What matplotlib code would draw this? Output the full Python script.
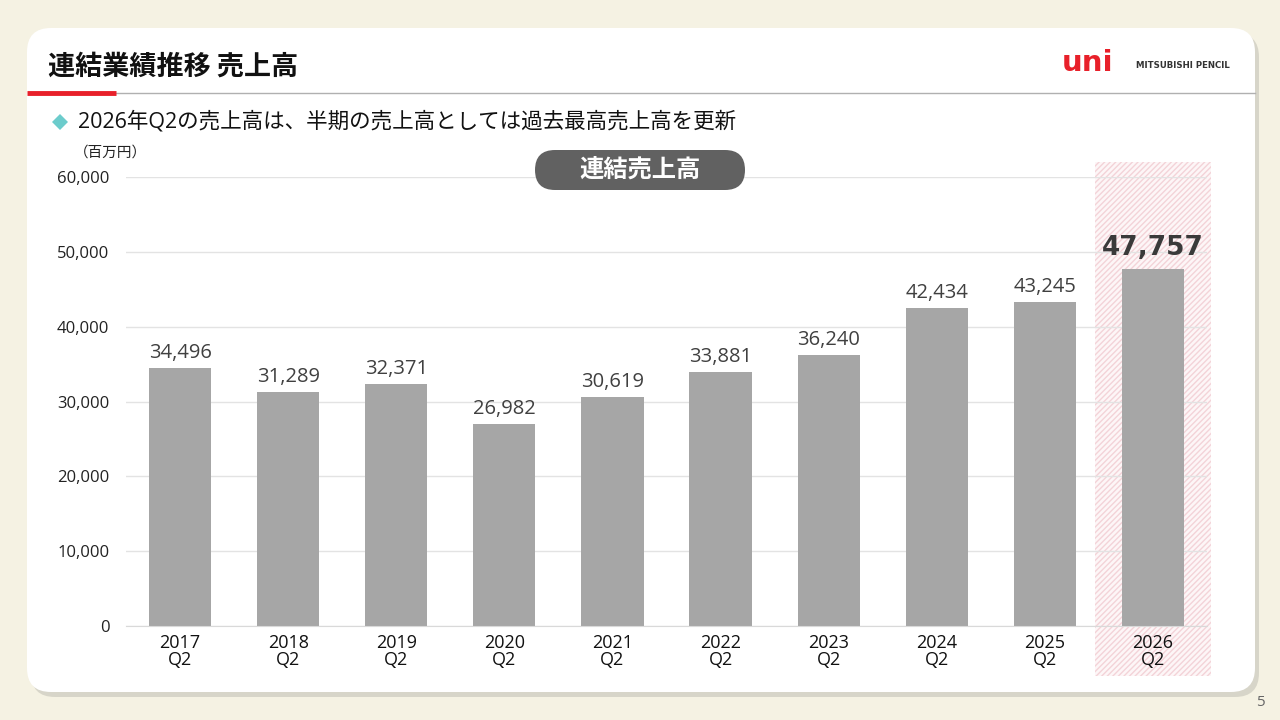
import numpy as np
import matplotlib.pyplot as plt
from matplotlib.patches import FancyBboxPatch, Rectangle, Polygon

plt.rcParams['font.family'] = ['Open Sans', 'Noto Sans CJK JP', 'DejaVu Sans']
plt.rcParams['hatch.linewidth'] = 1.0

# データ（百万円）
years = ['2017', '2018', '2019', '2020', '2021', '2022', '2023', '2024', '2025', '2026']
sales = [34496, 31289, 32371, 26982, 30619, 33881, 36240, 42434, 43245, 47757]
tick_labels = [y + '\nQ2' for y in years]
yticks = [0, 10000, 20000, 30000, 40000, 50000, 60000]

W, H = 1280, 720
fig = plt.figure(figsize=(12.8, 7.2), dpi=100)
fig.patch.set_facecolor('#f5f2e3')

# 背景カード
bg = fig.add_axes([0, 0, 1, 1])
bg.set_xlim(0, W)
bg.set_ylim(H, 0)
bg.axis('off')
bg.set_zorder(-1)
bg.add_patch(FancyBboxPatch((31, 33), 1228, 664, boxstyle='round,pad=0,rounding_size=24',
                            fc='#c4c3b8', ec='none', alpha=0.6))
bg.add_patch(FancyBboxPatch((27, 28), 1228, 664, boxstyle='round,pad=0,rounding_size=24',
                            fc='white', ec='none'))

# タイトル
bg.text(48, 67, '連結業績推移 売上高', fontsize=19.5, fontweight='bold', color='#111111',
        va='center', ha='left', family='Noto Sans CJK JP')
bg.plot([115, 1255], [93, 93], color='#b0b0b0', lw=1)
bg.plot([27, 116], [93, 93], color='#e8202a', lw=3.5, solid_capstyle='butt')

# ロゴ
bg.text(1062, 63, 'uni', fontsize=21, fontweight='heavy', color='#e8202a',
        va='center', ha='left', family='DejaVu Sans')
bg.text(1136, 65, 'MITSUBISHI PENCIL', fontsize=6.2, fontweight='bold', color='#333333',
        va='center', ha='left', family='DejaVu Sans')

# 箇条書き
bg.add_patch(Polygon([[60, 114], [68, 122], [60, 130], [52, 122]], closed=True,
                     fc='#6ccccc', ec='none'))
bg.text(78, 122, '2026年Q2の売上高は、半期の売上高としては過去最高売上高を更新',
        fontsize=15.5, color='#111111', va='center', ha='left')
bg.text(110, 153, '（百万円）', fontsize=10.5, color='#222222', va='center', ha='center',
        family='Noto Sans CJK JP')

# ページ番号
bg.text(1260, 703, '5', fontsize=11, color='#666666', va='center', ha='center')

# グラフ
x = np.arange(len(years))
ax = fig.add_axes([126 / W, 1 - 626 / H, (1207 - 126) / W, (626 - 177) / H])
ax.set_facecolor('none')
ax.set_xlim(-0.5, len(years) - 0.5)
ax.set_ylim(0, 60000)

# 2026年ハイライト
hl = Rectangle((len(years) - 1 - 0.535, -6700), 1.07, 68700, fc='#fdf6f7', ec='#f3d3d8',
               hatch='//////', lw=0, clip_on=False, zorder=0)
ax.add_patch(hl)

ax.set_yticks(yticks)
ax.set_yticklabels([f'{v:,}' for v in yticks], fontsize=12, color='#222222')
ax.yaxis.grid(True, color='#e3e3e3', lw=1)
ax.set_axisbelow(True)
ax.bar(x, sales, width=0.575, color='#a6a6a6', zorder=2)

for i, v in enumerate(sales):
    if i == len(sales) - 1:
        ax.text(i, v + 1000, f'{v:,}', ha='center', va='bottom', fontsize=19,
                fontweight='bold', color='#3a3a3a', family='DejaVu Sans')
    else:
        ax.text(i, v + 700, f'{v:,}', ha='center', va='bottom', fontsize=14.5,
                color='#404040')

ax.set_xticks(x)
ax.set_xticklabels(tick_labels, fontsize=13, color='#111111', linespacing=0.9)
ax.tick_params(length=0, pad=6)
ax.tick_params(axis='y', pad=12)
for s in ['top', 'right', 'left']:
    ax.spines[s].set_visible(False)
ax.spines['bottom'].set_color('#d9d9d9')

# 凡例ピル
top = fig.add_axes([0, 0, 1, 1])
top.set_xlim(0, W)
top.set_ylim(H, 0)
top.axis('off')
top.add_patch(FancyBboxPatch((535, 150), 210, 40, boxstyle='round,pad=0,rounding_size=20',
                             fc='#616161', ec='none'))
top.text(640, 170, '連結売上高', fontsize=17.5, fontweight='bold', color='white',
         va='center', ha='center', family='Noto Sans CJK JP')

fig.savefig('out.png', dpi=100, facecolor=fig.get_facecolor())
